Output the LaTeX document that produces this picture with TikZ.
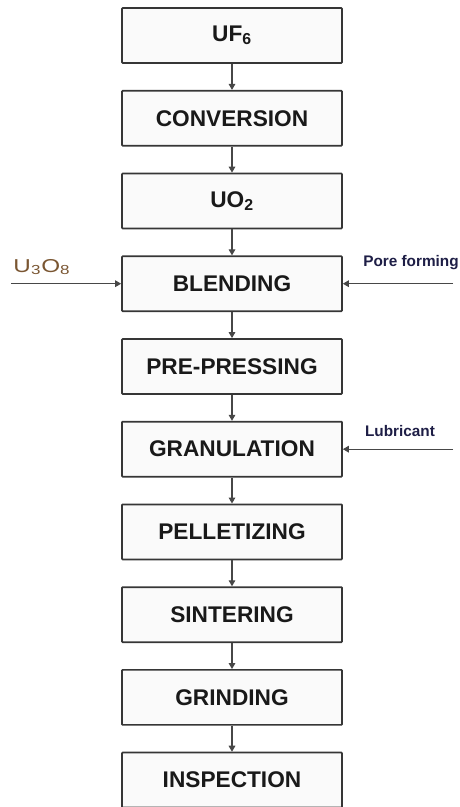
\documentclass[tikz,border=0pt]{standalone}
\usepackage{fontspec}
\setmainfont{Liberation Sans}
\usetikzlibrary{positioning,arrows.meta}
\definecolor{boxline}{HTML}{363636}
\definecolor{inktext}{HTML}{1E1E46}
\definecolor{oxide}{HTML}{7A5632}
\tikzset{
stepbox/.style={
	draw=boxline, line width=1.3pt, fill=black!2, rounded corners=0.6pt,
	minimum width=165pt, minimum height=41.25pt, inner sep=0pt,
	font=\fontsize{17}{20}\selectfont\bfseries, text=black!90},
flow/.style={draw=black!72, line width=0.85pt,
	-{Triangle[length=4.5pt,width=5pt]}},
feedlabel/.style={font=\fontsize{11.5}{13}\selectfont\bfseries,
	text=inktext, inner sep=0pt}
}

\begin{document}
\begin{tikzpicture}[x=0.75pt, y=0.75pt, node distance=19.5pt]
	\useasboundingbox (0,0) rectangle (460,-807);
	% main process line
	\node[stepbox] (uf) at (232,-35.5) {UF\textsubscript{6}};
	\node[stepbox, below=of uf] (conv) {CONVERSION};
	\node[stepbox, below=of conv] (uo) {UO\textsubscript{2}};
	\node[stepbox, below=of uo] (blend) {BLENDING};
	\node[stepbox, below=of blend] (prepress) {PRE-PRESSING};
	\node[stepbox, below=of prepress] (gran) {GRANULATION};
	\node[stepbox, below=of gran] (pellet) {PELLETIZING};
	\node[stepbox, below=of pellet] (sinter) {SINTERING};
	\node[stepbox, below=of sinter] (grind) {GRINDING};
	\node[stepbox, below=of grind] (insp) {INSPECTION};
	\draw[flow] (uf) -- (conv);
	\draw[flow] (conv) -- (uo);
	\draw[flow] (uo) -- (blend);
	\draw[flow] (blend) -- (prepress);
	\draw[flow] (prepress) -- (gran);
	\draw[flow] (gran) -- (pellet);
	\draw[flow] (pellet) -- (sinter);
	\draw[flow] (sinter) -- (grind);
	\draw[flow] (grind) -- (insp);
	% additives
	\coordinate (oxin) at (11,0 |- blend.west);
	\coordinate (porein) at (453,0 |- blend.east);
	\coordinate (lubin) at (453,0 |- gran.east);
	\draw[flow] (oxin) -- (blend.west);
	\draw[flow] (porein) -- (blend.east);
	\draw[flow] (lubin) -- (gran.east);
	\node[text=oxide, inner sep=0pt, font=\fontsize{14}{16}\selectfont]
		(oxlabel) at (42,-267) {\scalebox{1.3}[1]{U\textsubscript{3}O\textsubscript{8}}};
	\node[feedlabel] (porelabel) at (411,-263) {Pore forming};
	\node[feedlabel] (lublabel) at (400,-431) {Lubricant};
\end{tikzpicture}
\end{document}
